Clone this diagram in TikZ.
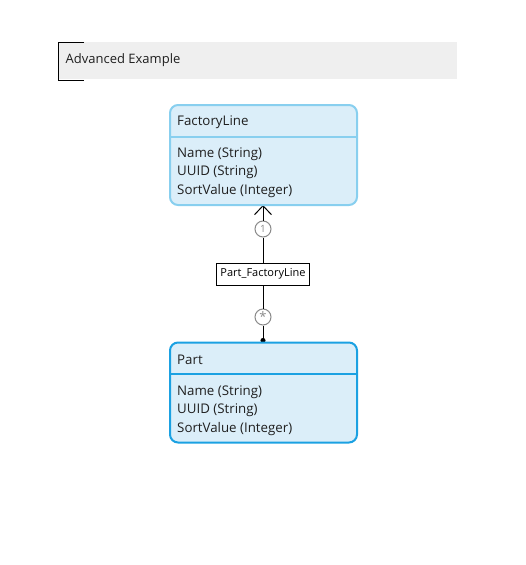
\documentclass[tikz,border=0pt]{standalone}
\usepackage{fontspec}
\setmainfont{Open Sans}
\usepackage{tikz}
\usetikzlibrary{arrows.meta, positioning}
\usepackage{xcolor}
\definecolor{entityfill}{HTML}{DBEEF9}
\definecolor{lightborder}{HTML}{88CFEF}
\definecolor{darkborder}{HTML}{1BA1E2}
\definecolor{titlegray}{HTML}{EFEFEF}
\definecolor{multgray}{HTML}{8A8A8A}
\tikzstyle{entity} = [draw, line width=2pt, rounded corners=8pt, fill=entityfill, minimum width=187pt, minimum height=100pt, inner sep=0pt]
\tikzstyle{field} = [anchor=west, inner sep=0pt, font=\fontsize{13.3}{15}\selectfont, text=black!88]
\tikzstyle{mult} = [circle, draw=multgray, fill=white, line width=1pt, minimum size=16pt, inner sep=0pt, text=multgray, font=\fontsize{10}{10}\selectfont]
\tikzstyle{relation} = [draw, fill=white, line width=0.8pt, inner xsep=4pt, minimum height=22pt, font=\fontsize{11}{12}\selectfont]
\tikzstyle{link} = [line width=1pt]

\begin{document}
\begin{tikzpicture}[x=1pt, y=-1pt]
	\useasboundingbox (0,0) rectangle (526,565);
	%Title
	\fill[titlegray] (58,42) rectangle (457,79);
	\draw[line width=1pt] (84,42) -- (58,42) -- (58,80) -- (84,80);
	\node[field, font=\fontsize{13}{15}\selectfont] (title) at (65.5,60) {Advanced Example};

	%Relation nodes
	\node[mult] (one) at (263,229) {1};
	\node[relation] (rel) at (263,274) {Part\_FactoryLine};
	\node[mult] (many) at (263,317) {\raisebox{-2.5pt}{\fontsize{13}{13}\selectfont *}};
	\coordinate (top) at (263,205);
	\coordinate (bottom) at (263,343);
	\draw[link, {Straight Barb[length=9pt,width=17pt,line width=1pt]}-] (top) -- (one);
	\draw[link] (one) -- (rel);
	\draw[link] (rel) -- (many);
	\draw[link, -{Circle[length=5pt]}] (many) -- (bottom);

	%FactoryLine
	\node[entity, draw=lightborder] (factory) at (263.5,155) {};
	\draw[lightborder, line width=2pt] (factory.west |- 0,137) -- (factory.east |- 0,137);
	\node[field] (fname) at (177,122.5) {FactoryLine};
	\node[field] (f1) at (177,154) {Name (String)};
	\node[field] (f2) at (177,172.5) {UUID (String)};
	\node[field] (f3) at (177,191) {SortValue (Integer)};

	%Part
	\node[entity, draw=darkborder] (part) at (263.5,392.5) {};
	\draw[darkborder, line width=2pt] (part.west |- 0,374) -- (part.east |- 0,374);
	\node[field] (pname) at (177,360) {Part};
	\node[field] (p1) at (177,392) {Name (String)};
	\node[field] (p2) at (177,410.5) {UUID (String)};
	\node[field] (p3) at (177,429) {SortValue (Integer)};
\end{tikzpicture}
\end{document}
